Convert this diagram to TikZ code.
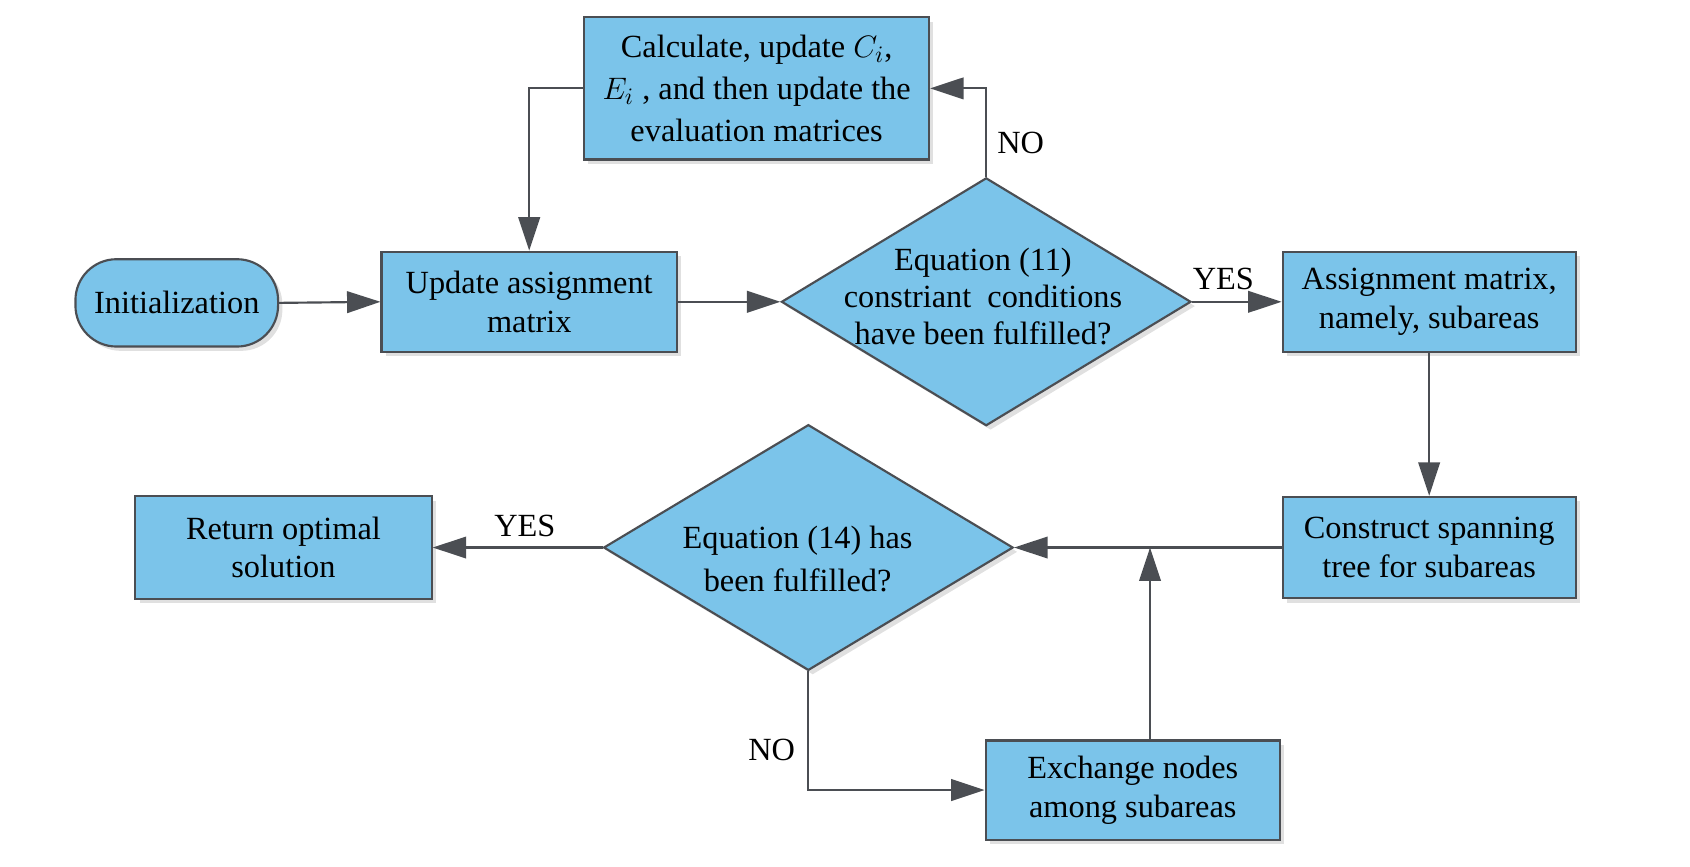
\documentclass[tikz,border=0pt]{standalone}
\usepackage{fontspec}
\setmainfont{Liberation Serif}
\usetikzlibrary{shapes.geometric,arrows.meta,shadows}
\definecolor{boxblue}{HTML}{7BC4EA}
\definecolor{edge}{HTML}{4B4E53}
\begin{document}
\begin{tikzpicture}[x=0.5pt,y=-0.5pt,
  base/.style={draw=edge,line width=1pt,fill=boxblue,
    drop shadow={shadow xshift=2pt,shadow yshift=-2pt,fill=black!12,opacity=1},
    align=center,inner sep=0pt,font=\fontsize{15}{18}\selectfont},
  box/.style={base,rectangle},
  term/.style={base,rectangle,rounded corners=19pt},
  dia/.style={base,diamond},
  txt/.style={align=center,inner sep=0pt,font=\fontsize{15}{17}\selectfont},
  lbl/.style={inner sep=0pt,font=\fontsize{15}{18}\selectfont},
  arr/.style={draw=edge,line width=1pt,-{Triangle[length=15.5pt,width=10pt]}},
]
\useasboundingbox (0,0) rectangle (1568,804.4);

\node[box,minimum width=160pt,minimum height=66pt,font=\fontsize{15}{19.5}\selectfont] (calc) at (702,82)
  {Calculate, update $C_i$,\\ $E_i$ , and then update the\\ evaluation matrices};
\node[term,minimum width=94pt,minimum height=40.5pt] (init) at (164,281) {Initialization};
\node[box,minimum width=137pt,minimum height=46.5pt] (upd) at (491,280) {Update assignment\\ matrix};
\node[dia,minimum width=190pt,minimum height=115pt] (d1) at (915,280) {};
\node[txt] (d1t) at (912,275) {Equation (11)\\ constriant~ conditions\\ have been fulfilled?};
\node[box,minimum width=136pt,minimum height=46.5pt] (asg) at (1326,280) {Assignment matrix,\\ namely, subareas};
\node[box,minimum width=136pt,minimum height=47pt] (con) at (1326,508) {Construct spanning\\ tree for subareas};
\node[dia,minimum width=190pt,minimum height=114pt] (d2) at (750,508) {};
\node[txt,font=\fontsize{15}{20}\selectfont] (d2t) at (740,519) {Equation (14) has\\ been fulfilled?};
\node[box,minimum width=137.5pt,minimum height=47.5pt] (ret) at (263,508) {Return optimal\\ solution};
\node[box,minimum width=136.5pt,minimum height=46pt] (exc) at (1051,733) {Exchange nodes\\ among subareas};

\coordinate (j) at (1067,508);

\draw[arr] (init.east) -- (upd.west);
\draw[arr] (upd.east) -- (d1.west);
\draw[arr] (d1.east) -- (asg.west);
\draw[arr] (d1.north) |- (calc.east);
\draw[arr] (calc.west) -| (upd.north);
\draw[arr] (asg.south) -- (con.north);
\draw[arr] (con.west) -- (d2.east);
\draw[arr] (exc.north -| j) -- (j);
\draw[arr] (d2.west) -- (ret.east);
\draw[arr] (d2.south) |- (exc.west);

\node[lbl] (y1) at (1135,259) {YES};
\node[lbl] (n1) at (947,133) {NO};
\node[lbl] (y2) at (487,488) {YES};
\node[lbl] (n2) at (716,696) {NO};
\end{tikzpicture}
\end{document}
